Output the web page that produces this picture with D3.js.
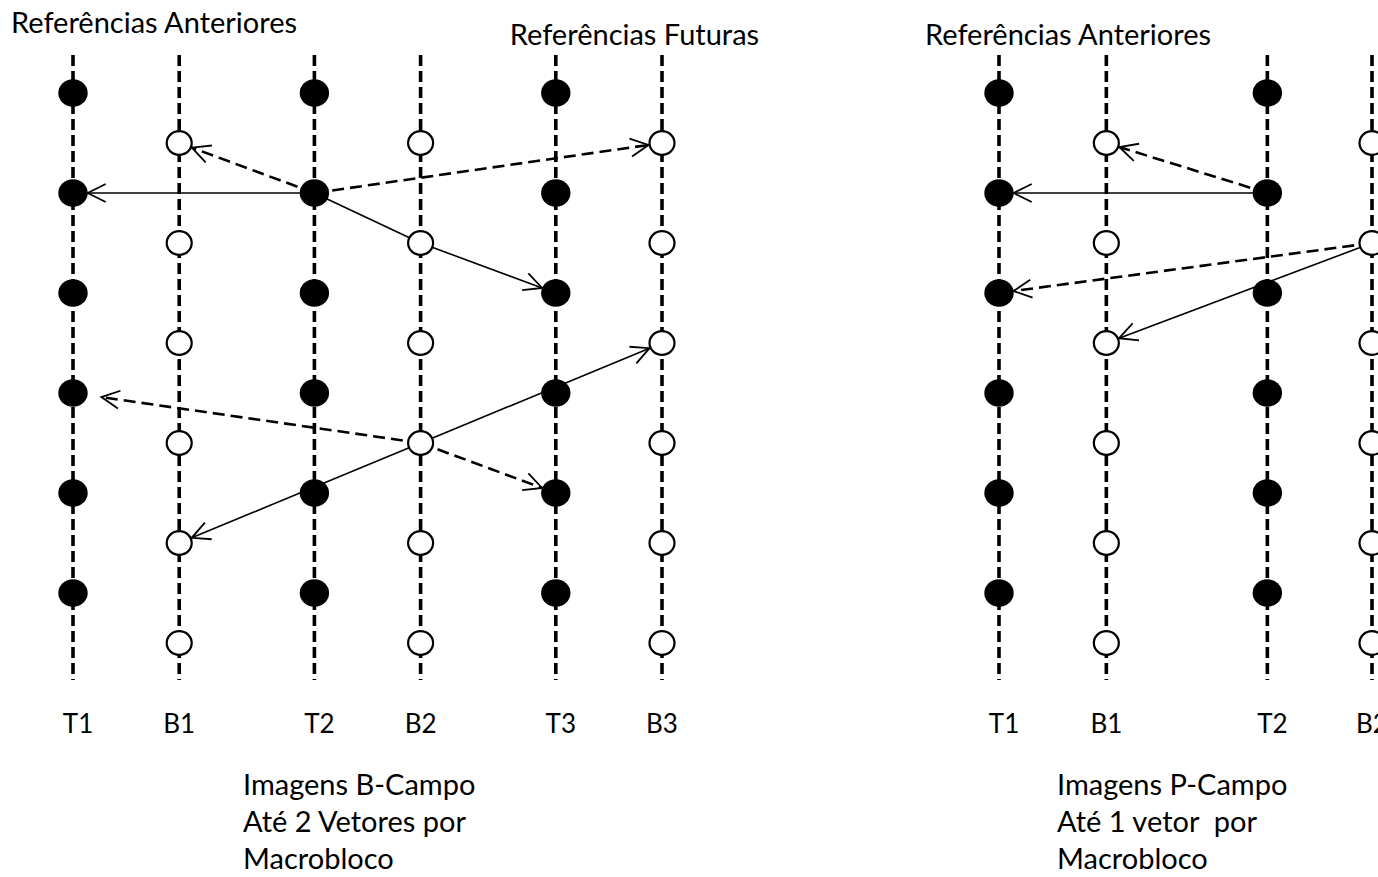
<!DOCTYPE html>
<html>
<head>
<meta charset="utf-8">
<script src="https://cdn.jsdelivr.net/npm/d3@7"></script>
<style>
  html, body { margin: 0; padding: 0; background: #fff; }
  svg { display: block; }
  text { font-family: Lato, "Open Sans", sans-serif; fill: #000; }
</style>
</head>
<body>
<svg id="chart" width="1378" height="877"></svg>
<script>
// ---------- data ----------
const leftColumns  = ["T1", "B1", "T2", "B2", "T3", "B3"];
const leftTimes    = [0, 0.44, 1, 1.44, 2, 2.44];      // frame units
const rightColumns = ["T1", "B1", "T2", "B2"];
const rightTimes   = [0, 0.4, 1, 1.39];
const fieldLines   = d3.range(12);                       // interlaced field lines 0..11

// vectors: [fromColumn, fromLine, toColumn, toLine, style, head, extraGap]
const leftVectors = [
  ["T2", 2, "T1", 2, "solid",  true, 0],
  ["T2", 2, "B1", 1, "dashed", true, 0],
  ["T2", 2, "B3", 1, "dashed", true, 0],
  ["T2", 2, "B2", 3, "solid",  false, 0],
  ["B2", 3, "T3", 4, "solid",  true, 0],
  ["B2", 7, "T1", 6, "dashed", true, 14],
  ["B2", 7, "T3", 8, "dashed", true, 0],
  ["B2", 7, "B1", 9, "solid",  true, 0],
  ["B2", 7, "B3", 5, "solid",  true, 0]
];
const rightVectors = [
  ["T2", 2, "T1", 2, "solid",  true, 0],
  ["T2", 2, "B1", 1, "dashed", true, 0],
  ["B2", 3, "T1", 4, "dashed", true, 0],
  ["B2", 3, "B1", 5, "solid",  true, 0]
];

const leftTitles  = [["Referências Anteriores", "T1", -62, 33], ["Referências Futuras", "T3", -46, 45]];
const rightTitles = [["Referências Anteriores", "T1", -74, 45]];
const leftCaption  = ["Imagens B-Campo", "Até 2 Vetores por", "Macrobloco"];
const rightCaption = ["Imagens P-Campo", "Até 1 vetor  por", "Macrobloco"];

// ---------- layout ----------
const svg = d3.select("#chart");
const y = d3.scaleLinear().domain([0, 11]).range([93, 643]);
const lineTop = y(-0.76), lineBottom = y(11.74);

const FILLED_RX = 14.7, FILLED_RY = 13.7;
const OPEN_RX = 12.5, OPEN_RY = 11.8;

function panel(columns, times, range, vectors, titles, caption, captionX) {
  const t = d3.scaleLinear().domain([0, d3.max(times)]).range(range);
  const xOf = c => t(times[columns.indexOf(c)]);
  const isTop = c => c[0] === "T";
  const g = svg.append("g");

  // vertical field lines
  g.selectAll("line.field").data(columns).join("line")
    .attr("class", "field")
    .attr("x1", d => xOf(d)).attr("x2", d => xOf(d))
    .attr("y1", lineTop).attr("y2", lineBottom)
    .attr("stroke", "#000").attr("stroke-width", 3.6)
    .attr("stroke-dasharray", "11,5");

  // vectors
  vectors.forEach(([fc, fl, tc, tl, style, head, gap]) => {
    const x1 = xOf(fc), y1 = y(fl), x2c = xOf(tc), y2c = y(tl);
    const dx = x2c - x1, dy = y2c - y1, len = Math.hypot(dx, dy);
    const ux = dx / len, uy = dy / len;
    const rx = isTop(tc) ? FILLED_RX : OPEN_RX + 1.1;
    const ry = isTop(tc) ? FILLED_RY : OPEN_RY + 1.1;
    const edge = 1 / Math.sqrt((ux * ux) / (rx * rx) + (uy * uy) / (ry * ry));
    const back = head ? edge + gap : 0;
    const x2 = x2c - ux * back, y2 = y2c - uy * back;
    g.append("line")
      .attr("x1", x1).attr("y1", y1).attr("x2", x2).attr("y2", y2)
      .attr("stroke", "#000")
      .attr("stroke-width", style === "dashed" ? 2.6 : 1.6)
      .attr("stroke-dasharray", style === "dashed" ? "12,6" : null);
    if (head) {
      const hl = 18, hw = 9;
      const bx = x2 - ux * hl, by = y2 - uy * hl;
      const px = -uy, py = ux;
      g.append("path")
        .attr("d", `M${bx + px * hw},${by + py * hw}L${x2},${y2}L${bx - px * hw},${by - py * hw}`)
        .attr("fill", "none").attr("stroke", "#000").attr("stroke-width", 1.8);
    }
  });

  // dots
  columns.forEach(c => {
    const top = isTop(c);
    const lines = fieldLines.filter(l => (l % 2 === 0) === top);
    g.selectAll(null).data(lines).join("ellipse")
      .attr("cx", xOf(c)).attr("cy", d => y(d))
      .attr("rx", top ? FILLED_RX : OPEN_RX)
      .attr("ry", top ? FILLED_RY : OPEN_RY)
      .attr("fill", top ? "#000" : "#fff")
      .attr("stroke", "#000").attr("stroke-width", top ? 0 : 2.2);
  });

  // column labels
  g.selectAll("text.col").data(columns).join("text")
    .attr("class", "col")
    .attr("x", d => xOf(d) + (isTop(d) ? 5 : 0))
    .attr("y", 733)
    .attr("text-anchor", "middle")
    .attr("font-size", 26)
    .text(d => d);

  // titles
  titles.forEach(([txt, col, dx, ty]) => {
    g.append("text").attr("x", xOf(col) + dx).attr("y", ty)
      .attr("font-size", 29).text(txt);
  });

  // caption
  g.selectAll("text.cap").data(caption).join("text")
    .attr("class", "cap")
    .attr("x", captionX)
    .attr("y", (d, i) => 795 + i * 37)
    .attr("font-size", 29)
    .attr("xml:space", "preserve")
    .style("white-space", "pre")
    .text(d => d);
}

panel(leftColumns, leftTimes, [73, 662], leftVectors, leftTitles, leftCaption, 243);
panel(rightColumns, rightTimes, [999, 1372], rightVectors, rightTitles, rightCaption, 1057);
</script>
</body>
</html>
